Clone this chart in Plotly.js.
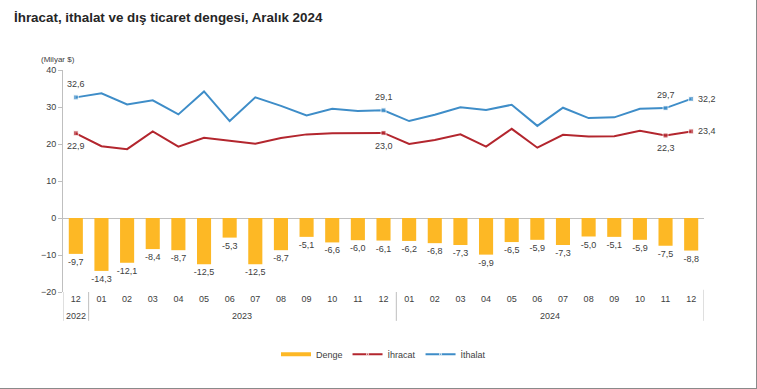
<!DOCTYPE html>
<html>
<head>
<meta charset="utf-8">
<script src="https://cdn.plot.ly/plotly-3.0.1.min.js"></script>
<style>
html,body{margin:0;padding:0;background:#fff;}
#chart{width:756px;height:388px;border-right:1px solid #8a8a8a;border-bottom:1px solid #8a8a8a;}
</style>
</head>
<body>
<div id="chart"></div>
<script>
// Data (billion USD)
const years  = ['2022','2023','2023','2023','2023','2023','2023','2023','2023','2023','2023','2023','2023',
                '2024','2024','2024','2024','2024','2024','2024','2024','2024','2024','2024','2024'];
const months = ['12','01','02','03','04','05','06','07','08','09','10','11','12',
                '01','02','03','04','05','06','07','08','09','10','11','12'];
const denge   = [-9.7,-14.3,-12.1,-8.4,-8.7,-12.5,-5.3,-12.5,-8.7,-5.1,-6.6,-6.0,-6.1,
                 -6.2,-6.8,-7.3,-9.9,-6.5,-5.9,-7.3,-5.0,-5.1,-5.9,-7.5,-8.8];
const ihracat = [22.9,19.4,18.6,23.4,19.3,21.7,20.9,20.1,21.6,22.6,22.9,22.9,23.0,
                 20.0,21.1,22.6,19.3,24.1,19.0,22.5,22.0,22.1,23.6,22.3,23.4];
const ithalat = [32.6,33.7,30.7,31.8,28.0,34.2,26.2,32.6,30.3,27.7,29.5,28.9,29.1,
                 26.2,27.9,29.9,29.2,30.6,24.9,29.8,27.0,27.2,29.5,29.7,32.2];
const labeledIdx = [0,12,23,24];

const FONT = 'Liberation Sans, Arial, sans-serif';
const fmt = v => v.toFixed(1).replace('.', ',');
const idx = months.map((m,i)=>i);
const lastIdx = idx.length-1;

function markerSizes(vals){ return vals.map((v,i)=> labeledIdx.includes(i) ? 5 : 0); }

// year groups computed from the years array
const groups = [];
years.forEach((y,i)=>{
  if(!groups.length || groups[groups.length-1].year!==y) groups.push({year:y, start:i, end:i});
  else groups[groups.length-1].end = i;
});

const traces = [
  {
    type:'bar', name:'Denge', x:idx, y:denge, showlegend:false,
    marker:{color:'#FDB825'},
    text: denge.map(fmt), textposition:'outside', cliponaxis:false, constraintext:'none',
    textfont:{size:9, color:'#404040', family:FONT},
    hoverinfo:'y'
  },
  {
    type:'scatter', mode:'lines', name:'Denge', x:[null], y:[null],
    line:{color:'#FDB825', width:4}, showlegend:true
  },
  {
    type:'scatter', mode:'lines+markers', name:'İhracat', x:idx, y:ihracat,
    line:{color:'#B3262E', width:2},
    marker:{color:'#B3262E', size:markerSizes(ihracat), symbol:'square'},
    cliponaxis:false
  },
  {
    type:'scatter', mode:'lines+markers', name:'İthalat', x:idx, y:ithalat,
    line:{color:'#3E8DC8', width:2},
    marker:{color:'#3E8DC8', size:markerSizes(ithalat), symbol:'square'},
    cliponaxis:false
  }
];

const shapes = [];
const annotations = [
  {text:'(Milyar $)', xref:'paper', yref:'paper', x:-0.037, y:1.02, xanchor:'left', yanchor:'bottom',
   showarrow:false, font:{size:8, color:'#404040', family:FONT}}
];
groups.forEach((g,k)=>{
  shapes.push({type:'line', xref:'x', yref:'paper', x0:g.start-0.5, x1:g.start-0.5, y0:0, y1:-0.13,
               line:{color:'#BFBFBF', width:1}});
  if(k===groups.length-1)
    shapes.push({type:'line', xref:'x', yref:'paper', x0:g.end+0.5, x1:g.end+0.5, y0:0.01, y1:-0.13,
                 line:{color:'#BFBFBF', width:1}});
  annotations.push({text:g.year, xref:'x', yref:'paper', x:(g.start+g.end)/2, y:-0.108,
                    xanchor:'center', yanchor:'middle', showarrow:false,
                    font:{size:9, color:'#404040', family:FONT}});
});
// point labels for the lines
labeledIdx.forEach(i=>{
  const last = i===lastIdx;
  annotations.push({text:fmt(ithalat[i]), x:i, y:ithalat[i], xref:'x', yref:'y', showarrow:false,
    xanchor: last ? 'left' : 'center', yanchor:'middle',
    xshift: last ? 5 : 0, yshift: last ? 0 : 13,
    font:{size:9, color:'#404040', family:FONT}});
  annotations.push({text:fmt(ihracat[i]), x:i, y:ihracat[i], xref:'x', yref:'y', showarrow:false,
    xanchor: last ? 'left' : 'center', yanchor:'middle',
    xshift: last ? 5 : 0, yshift: last ? 0 : -13,
    font:{size:9, color:'#404040', family:FONT}});
});

const layout = {
  width:756, height:388,
  margin:{l:63, r:52, t:70, b:96},
  paper_bgcolor:'#fff', plot_bgcolor:'#fff',
  separators:',.',
  font:{family:FONT, size:9, color:'#404040'},
  title:{
    text:'<b>İhracat, ithalat ve dış ticaret dengesi, Aralık 2024</b>',
    x:14/756, xanchor:'left', xref:'container',
    y:1-17/388, yanchor:'middle', yref:'container',
    font:{size:13.4, color:'#262626', family:FONT}
  },
  bargap:0.45,
  showlegend:true,
  legend:{orientation:'h', x:0.5, xanchor:'center', y:-0.28, yanchor:'middle',
          font:{size:9, color:'#404040'}, traceorder:'normal'},
  xaxis:{
    range:[-0.5, 24.5], tickvals:idx, ticktext:months,
    showgrid:false, zeroline:false, showline:false, ticks:'',
    tickfont:{size:9, color:'#404040'}, automargin:false
  },
  yaxis:{
    range:[-20,40], dtick:10, showgrid:false,
    zeroline:true, zerolinecolor:'#BFBFBF', zerolinewidth:1,
    showline:true, linecolor:'#BFBFBF', linewidth:1,
    ticks:'outside', ticklen:4, tickcolor:'#BFBFBF',
    tickfont:{size:9, color:'#404040'}, automargin:false
  },
  shapes:shapes,
  annotations:annotations
};

Plotly.newPlot('chart', traces, layout, {displayModeBar:false, staticPlot:true});
</script>
</body>
</html>
